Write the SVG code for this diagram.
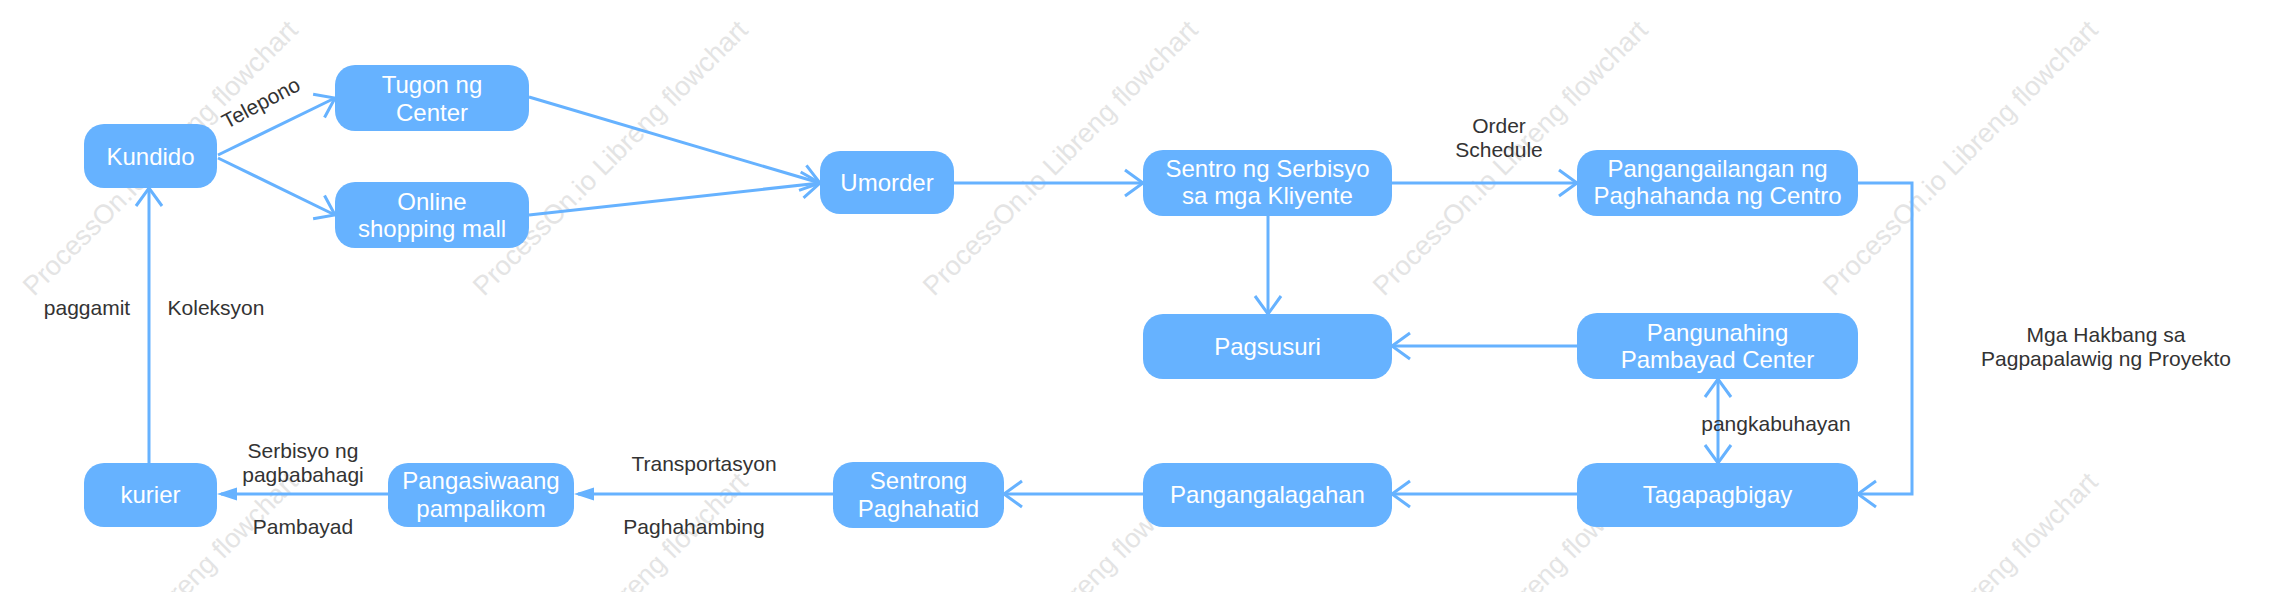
<svg xmlns="http://www.w3.org/2000/svg" width="2275" height="592" viewBox="0 0 2275 592">
<style>
.wm{font-family:"Liberation Sans",Arial,sans-serif;font-size:27px;fill:#e4e4e4}
.node rect{fill:#66B2FF}
.node text{font-family:"Liberation Sans",Arial,sans-serif;font-size:24px;fill:#ffffff;text-anchor:middle}
.lbl{font-family:"Liberation Sans",Arial,sans-serif;font-size:21px;fill:#333333;text-anchor:middle}
.edge{fill:none;stroke:#66B2FF;stroke-width:3}
</style>
<defs>
<marker id="open" markerUnits="userSpaceOnUse" viewBox="-22 -16 26 32" refX="0" refY="0" markerWidth="26" markerHeight="32" orient="auto-start-reverse">
<path d="M-18,-13 L0,0 L-18,13" fill="none" stroke="#66B2FF" stroke-width="3"/>
</marker>
<marker id="fill" markerUnits="userSpaceOnUse" viewBox="-22 -10 28 20" refX="0" refY="0" markerWidth="28" markerHeight="20" orient="auto">
<path d="M4,0 L-16,-6.5 L-16,6.5 Z" fill="#66B2FF"/>
</marker>
</defs>
<rect width="2275" height="592" fill="#ffffff"/>
<g id="watermarks">
<text class="wm" x="34" y="297" transform="rotate(-45 34 297)">ProcessOn.io Libreng flowchart</text>
<text class="wm" x="484" y="297" transform="rotate(-45 484 297)">ProcessOn.io Libreng flowchart</text>
<text class="wm" x="934" y="297" transform="rotate(-45 934 297)">ProcessOn.io Libreng flowchart</text>
<text class="wm" x="1384" y="297" transform="rotate(-45 1384 297)">ProcessOn.io Libreng flowchart</text>
<text class="wm" x="1834" y="297" transform="rotate(-45 1834 297)">ProcessOn.io Libreng flowchart</text>
<text class="wm" x="34" y="749" transform="rotate(-45 34 749)">ProcessOn.io Libreng flowchart</text>
<text class="wm" x="484" y="749" transform="rotate(-45 484 749)">ProcessOn.io Libreng flowchart</text>
<text class="wm" x="934" y="749" transform="rotate(-45 934 749)">ProcessOn.io Libreng flowchart</text>
<text class="wm" x="1384" y="749" transform="rotate(-45 1384 749)">ProcessOn.io Libreng flowchart</text>
<text class="wm" x="1834" y="749" transform="rotate(-45 1834 749)">ProcessOn.io Libreng flowchart</text>
</g>
<g id="connectors">
<path class="edge" d="M218,155 L335,98" marker-end="url(#open)"/>
<path class="edge" d="M218,158 L335,215" marker-end="url(#open)"/>
<path class="edge" d="M529,97 L820,183" marker-end="url(#open)"/>
<path class="edge" d="M529,215 L820,183" marker-end="url(#open)"/>
<path class="edge" d="M954,183 L1143,183" marker-end="url(#open)"/>
<path class="edge" d="M1392,183 L1577,183" marker-end="url(#open)"/>
<path class="edge" d="M1858,183 L1912,183 L1912,494 L1858,494" marker-end="url(#open)"/>
<path class="edge" d="M1268,216 L1268,314" marker-end="url(#open)"/>
<path class="edge" d="M1577,346 L1392,346" marker-end="url(#open)"/>
<path class="edge" d="M1718,379 L1718,463" marker-start="url(#open)" marker-end="url(#open)"/>
<path class="edge" d="M1577,494 L1392,494" marker-end="url(#open)"/>
<path class="edge" d="M1143,494 L1004,494" marker-end="url(#open)"/>
<path class="edge" d="M833,494 L578,494" marker-end="url(#fill)"/>
<path class="edge" d="M388,494 L221,494" marker-end="url(#fill)"/>
<path class="edge" d="M149,463 L149,188" marker-end="url(#open)"/>
<text class="lbl" x="261" y="110" transform="rotate(-28 261 103)">Telepono</text>
<text class="lbl" x="1499" y="133">Order</text>
<text class="lbl" x="1499" y="157">Schedule</text>
<text class="lbl" x="1776" y="431">pangkabuhayan</text>
<text class="lbl" x="87" y="315">paggamit</text>
<text class="lbl" x="216" y="315">Koleksyon</text>
<text class="lbl" x="303" y="458">Serbisyo ng</text>
<text class="lbl" x="303" y="482">pagbabahagi</text>
<text class="lbl" x="303" y="534">Pambayad</text>
<text class="lbl" x="704" y="471">Transportasyon</text>
<text class="lbl" x="694" y="534">Paghahambing</text>
</g>
<g id="n-kundido" class="node"><rect x="84" y="124" width="133" height="64" rx="20"/><text x="150.5" y="165">Kundido</text></g>
<g id="n-tugon" class="node"><rect x="335" y="65" width="194" height="66" rx="20"/><text x="432" y="93">Tugon ng</text><text x="432" y="121">Center</text></g>
<g id="n-online" class="node"><rect x="335" y="182" width="194" height="66" rx="20"/><text x="432" y="210">Online</text><text x="432" y="237">shopping mall</text></g>
<g id="n-umorder" class="node"><rect x="820" y="151" width="134" height="63" rx="20"/><text x="887" y="191">Umorder</text></g>
<g id="n-sentro" class="node"><rect x="1143" y="150" width="249" height="66" rx="20"/><text x="1267.5" y="177">Sentro ng Serbisyo</text><text x="1267.5" y="204">sa mga Kliyente</text></g>
<g id="n-pangangailangan" class="node"><rect x="1577" y="150" width="281" height="66" rx="20"/><text x="1717.5" y="177">Pangangailangan ng</text><text x="1717.5" y="204">Paghahanda ng Centro</text></g>
<g id="n-pagsusuri" class="node"><rect x="1143" y="314" width="249" height="65" rx="20"/><text x="1267.5" y="355">Pagsusuri</text></g>
<g id="n-pangunahing" class="node"><rect x="1577" y="313" width="281" height="66" rx="20"/><text x="1717.5" y="341">Pangunahing</text><text x="1717.5" y="368">Pambayad Center</text></g>
<g id="n-tagapagbigay" class="node"><rect x="1577" y="463" width="281" height="64" rx="20"/><text x="1717.5" y="503">Tagapagbigay</text></g>
<g id="n-pangangalagahan" class="node"><rect x="1143" y="463" width="249" height="64" rx="20"/><text x="1267.5" y="503">Pangangalagahan</text></g>
<g id="n-sentrong" class="node"><rect x="833" y="462" width="171" height="66" rx="20"/><text x="918.5" y="489">Sentrong</text><text x="918.5" y="517">Paghahatid</text></g>
<g id="n-pangasiwaang" class="node"><rect x="388" y="463" width="186" height="64" rx="20"/><text x="481" y="489">Pangasiwaang</text><text x="481" y="517">pampalikom</text></g>
<g id="n-kurier" class="node"><rect x="84" y="463" width="133" height="64" rx="20"/><text x="150.5" y="503">kurier</text></g>
<text class="lbl" x="2106" y="342">Mga Hakbang sa</text>
<text class="lbl" x="2106" y="366">Pagpapalawig ng Proyekto</text>
</svg>
